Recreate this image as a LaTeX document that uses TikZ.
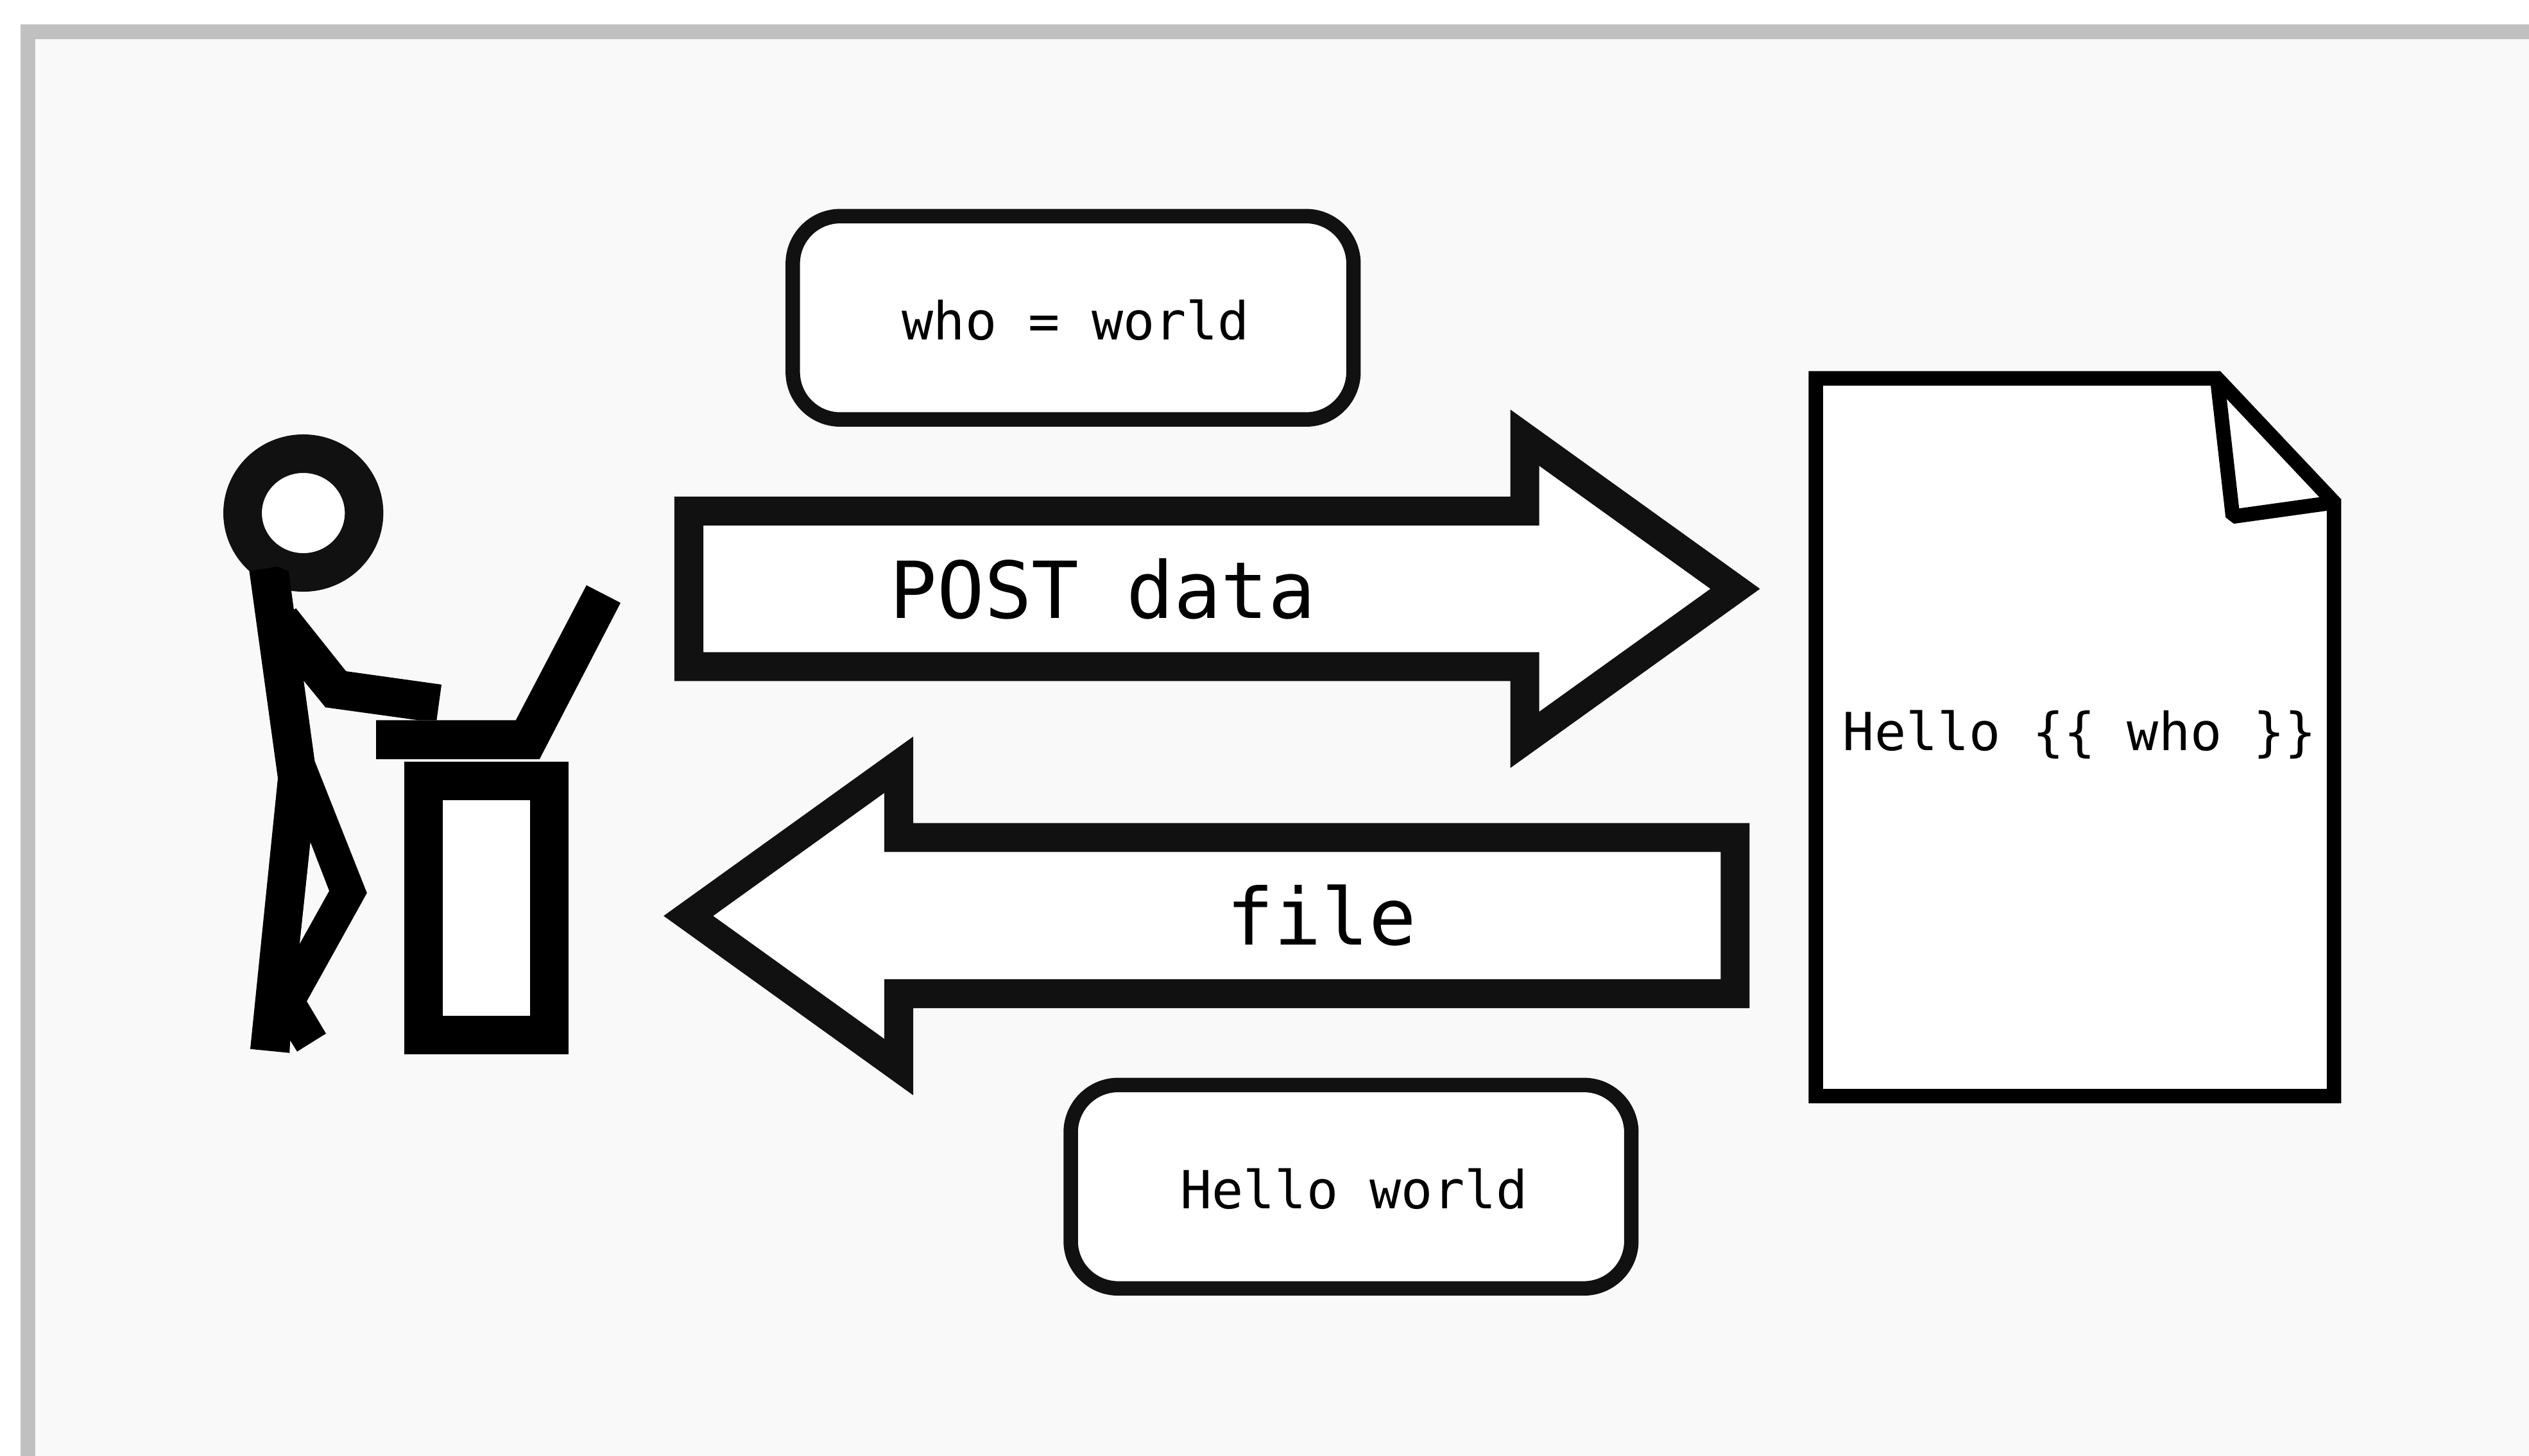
\documentclass[tikz,border=0pt]{standalone}
\usepackage{fontspec}
\newfontfamily\dejamono{DejaVu Sans Mono}
\definecolor{ink}{HTML}{111111}
\definecolor{framegray}{HTML}{C0C0C0}
\definecolor{paper}{HTML}{F9F9F9}
\tikzset{
  pill/.style={draw=ink,fill=white,line width=0.225cm,rounded corners=0.74cm},
  bigarrow/.style={draw=ink,fill=white,line width=0.45cm,miter limit=10,line join=miter},
  smalltext/.style={anchor=base,inner sep=0pt,outer sep=0pt,text=black,font=\dejamono\fontsize{23.25}{28}\selectfont},
  bigtext/.style={anchor=base,inner sep=0pt,outer sep=0pt,text=black,font=\dejamono\fontsize{34.85}{42}\selectfont},
  sheet/.style={draw=black,fill=white,line width=0.225cm,line join=miter},
}
\begin{document}
\begin{tikzpicture}[x=0.01cm,y=-0.01cm]
\clip (0,0) rectangle (3941,2268);
\fill[white] (0,0) rectangle (3941,2268);
% frame
\draw[framegray,fill=paper,line width=0.23cm] (43.5,49.5) rectangle (4100,2400);
% person
\draw[ink,fill=white,line width=0.6cm] (472.7,799.5) ellipse [x radius=0.946cm,y radius=0.925cm];
\fill[black] (388.5,890) -- (432.5,883) -- (449.8,890) -- (457.9,950) -- (461.2,948) -- (539.2,1046)
  -- (688,1066.8) -- (680.4,1122.3) -- (651.7,1122.3) -- (507.2,1102.3) -- (473.2,1060.7)
  -- (490.4,1186) -- (571.8,1391.6) -- (478,1560.4) -- (508,1610.6) -- (463,1638.7)
  -- (452.2,1621.3) -- (451.2,1640.8) -- (390,1634.7) -- (433,1212.8) -- cycle;
\fill[paper] (483.7,1312.6) -- (512.9,1388.3) -- (467,1470.6) -- cycle;
% laptop
\fill[black] (586.1,1122.3) -- (803.8,1122.3) -- (913.9,912) -- (967,939.4) -- (840.7,1183.2) -- (586.1,1183.2) -- cycle;
% desk
\draw[black,fill=white,line width=0.6cm] (660.2,1216.7) rectangle (856,1612.7);
% arrows
\draw[bigarrow] (1073.5,796.3) -- (2376,796.3) -- (2376,682) -- (2704,917.6) -- (2376,1153) -- (2376,1038.9) -- (1073.5,1038.9) -- cycle;
\draw[bigarrow] (2703.8,1305.2) -- (1400.6,1305.2) -- (1400.6,1191.7) -- (1072.7,1427.3) -- (1400.6,1662.9) -- (1400.6,1548.6) -- (2703.8,1548.6) -- cycle;
% value boxes
\draw[pill] (1235.4,336.8) rectangle (2109.2,653.7);
\draw[pill] (1668.5,1690.8) rectangle (2542.2,2007.8);
% template sheet
\draw[sheet] (2829.6,589.5) -- (3455,589.5) -- (3637,782.4) -- (3637,1708) -- (2829.6,1708) -- cycle;
\draw[black,line width=0.225cm,line join=bevel] (3455,589.5) -- (3479.4,805) -- (3637,783);
% labels
\node[smalltext] (who) at (1676.5,529) {who = world};
\node[smalltext] (hello) at (2110,1883) {Hello world};
\node[smalltext] (tmpl) at (3241,1169) {Hello \{\{ who \}\}};
\node[bigtext] (post) at (1718.5,963.5) {POST data};
\node[bigtext] (file) at (2059.5,1472.4) {file};
\end{tikzpicture}
\end{document}
